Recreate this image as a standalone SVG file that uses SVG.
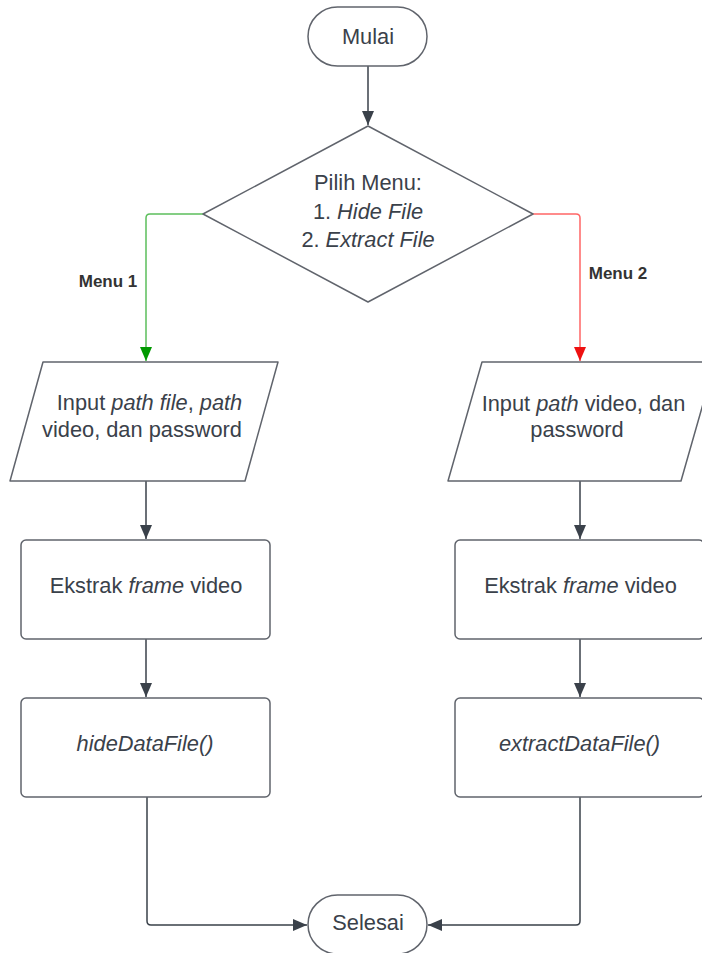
<svg xmlns="http://www.w3.org/2000/svg" width="702" height="953" viewBox="0 0 702 953">
<style>
.shape{fill:#ffffff;stroke:#60646c;stroke-width:1.5;stroke-linejoin:round}
.t{font-family:"Liberation Sans",Arial,sans-serif;font-size:21.8px;fill:#3a414a;text-anchor:middle}
.i{font-style:italic}
.lbl{font-family:"Liberation Sans",Arial,sans-serif;font-size:17px;font-weight:bold;fill:#333333;text-anchor:middle}
.c{fill:none;stroke:#3a414a;stroke-width:1.5}
.cg{fill:none;stroke:#5cbf5c;stroke-width:1.5}
.cr{fill:none;stroke:#ff6666;stroke-width:1.5}
</style>
<defs>
<marker id="ah" markerUnits="userSpaceOnUse" markerWidth="14" markerHeight="12" refX="14" refY="6" orient="auto"><path d="M0,0 L14,6 L0,12 z" fill="#3a414a"/></marker>
<marker id="ahg" markerUnits="userSpaceOnUse" markerWidth="14" markerHeight="12" refX="14" refY="6" orient="auto"><path d="M0,0 L14,6 L0,12 z" fill="#009900"/></marker>
<marker id="ahr" markerUnits="userSpaceOnUse" markerWidth="14" markerHeight="12" refX="14" refY="6" orient="auto"><path d="M0,0 L14,6 L0,12 z" fill="#ee1111"/></marker>
</defs>
<rect width="702" height="953" fill="#ffffff"/>
<g id="connectors">
<path class="c" d="M368,66 L368,125" marker-end="url(#ah)"/>
<path class="cg" d="M203,214 L150,214 Q146,214 146,218 L146,361" marker-end="url(#ahg)"/>
<path class="cr" d="M533,214 L576,214 Q580,214 580,218 L580,361" marker-end="url(#ahr)"/>
<path class="c" d="M146,481 L146,539" marker-end="url(#ah)"/>
<path class="c" d="M580,481 L580,539" marker-end="url(#ah)"/>
<path class="c" d="M146,639 L146,697" marker-end="url(#ah)"/>
<path class="c" d="M580,639 L580,697" marker-end="url(#ah)"/>
<path class="c" d="M147,797 L147,921 Q147,925 151,925 L307,925" marker-end="url(#ah)"/>
<path class="c" d="M580,797 L580,921 Q580,925 576,925 L428,925" marker-end="url(#ah)"/>
<text class="lbl" x="108" y="287">Menu 1</text>
<text class="lbl" x="618" y="279">Menu 2</text>
</g>
<g id="mulai">
<rect class="shape" x="308" y="7" width="119" height="59" rx="29.5"/>
<text class="t" x="368" y="44">Mulai</text>
</g>
<g id="pilih-menu">
<path class="shape" d="M368,126 L533,214 L368,302 L203,214 Z"/>
<text class="t" x="368" y="190">Pilih Menu:</text>
<text class="t" x="368" y="218.5">1. <tspan class="i">Hide File</tspan></text>
<text class="t" x="368" y="247">2. <tspan class="i">Extract File</tspan></text>
</g>
<g id="input-left">
<path class="shape" d="M43,362 L278,362 L245,481 L10,481 Z"/>
<text class="t" x="149.5" y="410">Input <tspan class="i">path file</tspan>, <tspan class="i">path</tspan></text>
<text class="t" x="142" y="437">video, dan password</text>
</g>
<g id="input-right">
<path class="shape" d="M482,362 L715,362 L681,481 L448,481 Z"/>
<text class="t" x="583.5" y="411">Input <tspan class="i">path</tspan> video, dan</text>
<text class="t" x="577" y="437">password</text>
</g>
<g id="ekstrak-left">
<rect class="shape" x="21" y="540" width="249" height="99" rx="5"/>
<text class="t" x="146" y="593">Ekstrak <tspan class="i">frame</tspan> video</text>
</g>
<g id="ekstrak-right">
<rect class="shape" x="455" y="540" width="249" height="99" rx="5"/>
<text class="t" x="580.5" y="593">Ekstrak <tspan class="i">frame</tspan> video</text>
</g>
<g id="hide">
<rect class="shape" x="21" y="698" width="249" height="99" rx="5"/>
<text class="t i" x="145" y="751">hideDataFile()</text>
</g>
<g id="extract">
<rect class="shape" x="455" y="698" width="249" height="99" rx="5"/>
<text class="t i" x="579.5" y="751">extractDataFile()</text>
</g>
<g id="selesai">
<rect class="shape" x="308" y="895" width="119" height="59" rx="29.5"/>
<text class="t" x="368" y="930">Selesai</text>
</g>
</svg>
